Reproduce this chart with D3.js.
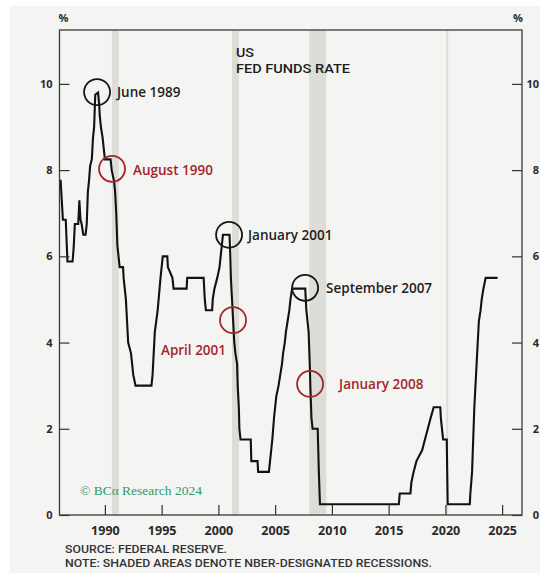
<!DOCTYPE html>
<html><head><meta charset="utf-8">
<script src="https://cdn.jsdelivr.net/npm/d3@7"></script>
<style>
html,body{margin:0;padding:0;background:#fff;}
svg{display:block;}
</style></head>
<body>
<svg id="c" width="540" height="573"></svg>
<script>
// ---- data ----
const dates = [1986.00,1986.10,1986.30,1986.55,1986.70,1987.15,1987.25,1987.35,1987.65,1987.75,1987.85,1987.95,1988.10,1988.30,1988.40,1988.50,1988.60,1988.70,1988.85,1988.95,1989.05,1989.15,1989.40,1989.50,1989.55,1989.65,1989.80,1989.90,1990.00,1990.50,1990.60,1990.80,1990.90,1991.00,1991.10,1991.20,1991.30,1991.60,1991.65,1991.75,1991.85,1991.90,1991.95,1992.05,1992.30,1992.50,1992.70,1994.10,1994.20,1994.25,1994.30,1994.40,1994.65,1994.90,1995.10,1995.50,1995.55,1995.95,1996.05,1997.20,1997.25,1998.70,1998.75,1998.80,1998.90,1999.45,1999.50,1999.65,1999.90,2000.10,2000.20,2000.40,2000.98,2001.05,2001.10,2001.20,2001.30,2001.40,2001.50,2001.65,2001.70,2001.80,2001.85,2001.95,2002.85,2002.90,2003.45,2003.50,2004.45,2004.55,2004.65,2004.75,2004.90,2005.10,2005.30,2005.45,2005.60,2005.70,2005.85,2005.95,2006.10,2006.25,2006.35,2006.50,2007.65,2007.75,2007.85,2007.95,2008.05,2008.10,2008.20,2008.30,2008.75,2008.80,2008.85,2008.95,2015.90,2015.98,2016.92,2017.00,2017.20,2017.45,2017.95,2018.20,2018.45,2018.70,2018.97,2019.55,2019.60,2019.70,2019.80,2020.12,2020.20,2022.15,2022.20,2022.35,2022.45,2022.55,2022.70,2022.85,2022.95,2023.10,2023.20,2023.35,2023.55,2024.60];
const rates = [7.75,7.75,6.85,6.85,5.88,5.88,6.2,6.75,6.75,7.3,6.85,6.75,6.5,6.5,6.75,7.5,7.75,8.1,8.25,8.75,9.0,9.75,9.8,9.5,9.25,9.0,8.75,8.5,8.25,8.25,8.0,7.75,7.5,7.0,6.25,6.0,5.75,5.75,5.5,5.25,5.0,4.75,4.5,4.0,3.75,3.25,3.0,3.0,3.25,3.5,3.75,4.25,4.75,5.5,6.0,6.0,5.75,5.5,5.25,5.25,5.5,5.5,5.25,5.0,4.75,4.75,5.0,5.25,5.5,5.75,6.0,6.5,6.5,6.0,5.5,5.0,4.5,4.0,3.75,3.5,3.0,2.5,2.0,1.75,1.75,1.25,1.25,1.0,1.0,1.25,1.5,1.75,2.25,2.75,3.0,3.25,3.5,3.75,4.0,4.25,4.5,4.75,5.0,5.25,5.25,4.75,4.5,4.25,3.5,3.0,2.25,2.0,2.0,1.5,1.0,0.25,0.25,0.5,0.5,0.75,1.0,1.25,1.5,1.75,2.0,2.25,2.5,2.5,2.25,2.0,1.75,1.75,0.25,0.25,0.5,1.0,1.75,2.5,3.25,4.0,4.5,4.75,5.0,5.25,5.5,5.5];

const recessionStarts = [1990.62, 2001.20, 2008.00, 2020.08];
const recessionEnds   = [1991.22, 2001.82, 2009.50, 2020.25];

const yTicks = [0, 2, 4, 6, 8, 10];
const xTicks = [1990, 1995, 2000, 2005, 2010, 2015, 2020, 2025];

const annLabels = ["June 1989", "August 1990", "January 2001", "April 2001", "September 2007", "January 2008"];
const annDates  = [1989.31, 1990.63, 2000.94, 2001.29, 2007.64, 2008.08];
const annValues = [9.81, 8.03, 6.50, 4.52, 5.27, 3.04];
const annKinds  = ["peak", "cut", "peak", "cut", "peak", "cut"];

const titleLines = ["US", "FED FUNDS RATE"];
const footerLines = ["SOURCE: FEDERAL RESERVE.", "NOTE: SHADED AREAS DENOTE NBER-DESIGNATED RECESSIONS."];

// ---- layout ----
const svg = d3.select("#c");
const L = 59.5, R = 522, T = 30, B = 515;
const font = "'Open Sans', Lato, sans-serif";
const font2 = "Roboto, 'Open Sans', sans-serif";
const dark = "#2a2a2a";
const red = "#a3262b";

svg.append("rect").attr("x", 10).attr("y", 6).attr("width", 530).attr("height", 567).attr("fill", "#f4f4f3");

const x = d3.scaleLinear().domain([1986, 2026.75]).range([L, R]);
const y = d3.scaleLinear().domain([0, 11.25]).range([B, T]);

// recession bands
svg.append("g").selectAll("rect").data(recessionStarts).join("rect")
  .attr("x", (d) => x(d))
  .attr("width", (d, i) => Math.max(1.5, x(recessionEnds[i]) - x(d)))
  .attr("y", T).attr("height", B - T)
  .attr("fill", "#dcddd6");

// line
const pts = dates.map((d, i) => [d, rates[i]]);
svg.append("path").datum(pts)
  .attr("d", d3.line().x(d => x(d[0])).y(d => y(d[1])))
  .attr("fill", "none").attr("stroke", "#111").attr("stroke-width", 2.1).attr("stroke-linejoin", "miter");

// axes (inward ticks)
const axisStyle = g => {
  g.select(".domain").remove();
  g.selectAll("line").attr("stroke", "#333").attr("stroke-width", 1.2);
  g.selectAll("text").attr("fill", dark).attr("font-family", font).attr("font-weight", 700).attr("font-size", 11);
};
svg.append("g").attr("transform", `translate(${L},0)`)
  .call(d3.axisLeft(y).tickValues(yTicks).tickSize(-10).tickPadding(7).tickFormat(d3.format("d")))
  .call(axisStyle);
svg.append("g").attr("transform", `translate(${R},0)`)
  .call(d3.axisRight(y).tickValues(yTicks).tickSize(-10).tickPadding(7).tickFormat(d3.format("d")))
  .call(axisStyle)
  .call(g => g.selectAll("text").attr("text-anchor", "end").attr("x", 17));
svg.append("g").attr("transform", `translate(0,${B})`)
  .call(d3.axisBottom(x).tickValues(xTicks).tickSize(-10).tickPadding(11).tickFormat(d3.format("d")))
  .call(axisStyle)
  .call(g => g.selectAll("text").attr("font-size", 12.5));

// frame
svg.append("rect").attr("x", L).attr("y", T).attr("width", R - L).attr("height", B - T)
  .attr("fill", "none").attr("stroke", "#3a3a3a").attr("stroke-width", 1.3);

// % units
svg.append("text").attr("x", L + 4).attr("y", 22).attr("text-anchor", "middle")
  .attr("font-family", font).attr("font-size", 11).attr("font-weight", 700).attr("fill", dark).text("%");
svg.append("text").attr("x", R - 4).attr("y", 22).attr("text-anchor", "middle")
  .attr("font-family", font).attr("font-size", 11).attr("font-weight", 700).attr("fill", dark).text("%");

// title
const titleWidths = [18, 114];
svg.append("g").selectAll("text").data(titleLines).join("text")
  .attr("x", x(2001.55)).attr("y", (d, i) => 57 + i * 15.5)
  .attr("font-family", font2).attr("font-size", 13).attr("font-weight", 500).attr("fill", "#1e1e1e")
  .attr("textLength", (d, i) => titleWidths[i]).attr("lengthAdjust", "spacingAndGlyphs")
  .text(d => d);

// annotations
const annOffsets = [[20, 5, "start"], [21, 6, "start"], [19, 5, "start"], [-7, 35, "end"], [21, 5, "start"], [29, 5, "start"]];
const ann = svg.append("g");
annLabels.forEach((lab, i) => {
  const cx = x(annDates[i]), cy = y(annValues[i]);
  const col = annKinds[i] === "peak" ? "#151515" : red;
  ann.append("circle").attr("cx", cx).attr("cy", cy).attr("r", 13)
    .attr("fill", "none").attr("stroke", col).attr("stroke-width", 1.8);
  ann.append("text").attr("x", cx + annOffsets[i][0]).attr("y", cy + annOffsets[i][1])
    .attr("text-anchor", annOffsets[i][2])
    .attr("font-family", font).attr("font-size", 13.5).attr("font-weight", 600)
    .attr("fill", annKinds[i] === "peak" ? "#1e1e1e" : red).text(lab);
});

// copyright
svg.append("text").attr("x", 80).attr("y", 495)
  .attr("font-family", "'Liberation Serif', 'DejaVu Serif', serif").attr("font-size", 13.5)
  .attr("fill", "#2f9a6c").text("\u00A9 BC\u03B1 Research 2024");

// footer
const footerWidths = [162, 367];
svg.append("g").selectAll("text").data(footerLines).join("text")
  .attr("x", 65).attr("y", (d, i) => 553 + i * 14)
  .attr("font-family", font2).attr("font-size", 11.5).attr("font-weight", 500).attr("fill", "#333")
  .attr("textLength", (d, i) => footerWidths[i]).attr("lengthAdjust", "spacingAndGlyphs")
  .text(d => d);
</script>
</body></html>
